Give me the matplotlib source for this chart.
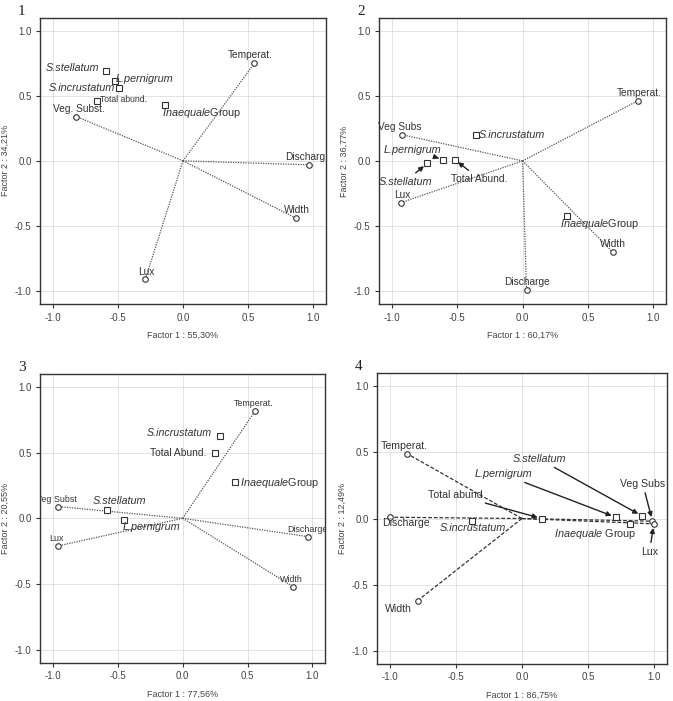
import matplotlib
matplotlib.use("Agg")
import matplotlib.pyplot as plt

plt.rcParams["font.family"] = ["Liberation Sans", "DejaVu Sans"]
plt.rcParams["mathtext.fontset"] = "custom"
plt.rcParams["mathtext.rm"] = "Liberation Sans"
plt.rcParams["mathtext.it"] = "Liberation Sans:italic"

INAEQ = r"$\mathit{Inaequale}$Group"
INAEQ_SP = r"$\mathit{Inaequale}$ Group"

# ---- panel 1 ----
p1_xlabel = "Factor 1 : 55,30%"
p1_ylabel = "Factor 2 : 34,21%"
p1_vars = ["Temperat.", "Discharg", "Width", "Lux", "Veg. Subst."]
p1_vx = [0.55, 0.97, 0.87, -0.29, -0.82]
p1_vy = [0.75, -0.03, -0.44, -0.91, 0.34]
p1_spp = ["S.stellatum", "L.pernigrum", "S.incrustatum", "Total abund.", INAEQ]
p1_sx = [-0.59, -0.52, -0.49, -0.66, -0.14]
p1_sy = [0.69, 0.61, 0.56, 0.46, 0.43]

# ---- panel 2 ----
p2_xlabel = "Factor 1 : 60,17%"
p2_ylabel = "Factor 2 : 36,77%"
p2_vars = ["Temperat.", "Veg Subs", "Lux", "Width", "Discharge"]
p2_vx = [0.88, -0.92, -0.93, 0.69, 0.03]
p2_vy = [0.46, 0.20, -0.32, -0.70, -0.99]
p2_spp = ["S.incrustatum", "L.pernigrum", "S.stellatum", "Total Abund.", INAEQ]
p2_sx = [-0.36, -0.61, -0.73, -0.52, 0.34]
p2_sy = [0.20, 0.01, -0.02, 0.01, -0.42]

# ---- panel 3 ----
p3_xlabel = "Factor 1 : 77,56%"
p3_ylabel = "Factor 2 : 20,55%"
p3_vars = ["Temperat.", "Veg Subst", "Lux", "Discharge", "Width"]
p3_vx = [0.56, -0.96, -0.96, 0.97, 0.85]
p3_vy = [0.82, 0.09, -0.21, -0.14, -0.52]
p3_spp = ["S.incrustatum", "Total Abund.", INAEQ, "S.stellatum", "L.pernigrum"]
p3_sx = [0.29, 0.25, 0.40, -0.58, -0.45]
p3_sy = [0.63, 0.50, 0.28, 0.06, -0.01]

# ---- panel 4 ----
p4_xlabel = "Factor 1 : 86,75%"
p4_ylabel = "Factor 2 : 12,49%"
p4_vars = ["Temperat.", "Discharge", "Width", "Veg Subs", "Lux"]
p4_vx = [-0.87, -1.00, -0.79, 0.99, 1.00]
p4_vy = [0.49, 0.01, -0.62, -0.02, -0.04]
p4_spp = ["Total abund", "S.incrustatum", "L.pernigrum", "S.stellatum", INAEQ_SP]
p4_sx = [0.15, -0.38, 0.71, 0.91, 0.82]
p4_sy = [0.00, -0.02, 0.01, 0.02, -0.04]

ticks = [-1.0, -0.5, 0.0, 0.5, 1.0]

# label placement: (dx pt, dy pt, ha, va, size, arrow)
p1_vlab = [(-3, 2, "center", "bottom", 7.3, False), (-17, 2, "left", "bottom", 7.3, False),
           (-9, 2, "left", "bottom", 7.3, False), (1, 2, "center", "bottom", 7.3, False),
           (2, 2, "center", "bottom", 7.3, False)]
p1_slab = [(-5, 2, "right", "center", 7.8, False), (0, 2, "left", "center", 7.8, False),
           (-3, 0, "right", "center", 7.8, False), (2, 1, "left", "center", 6.2, False),
           (-2, -6, "left", "center", 7.8, False)]
p2_vlab = [(1, 2, "center", "bottom", 7.3, False), (-2, 2, "center", "bottom", 7.3, False),
           (1, 2, "center", "bottom", 7.3, False), (0, 2, "center", "bottom", 7.3, False),
           (0, 2, "center", "bottom", 7.3, False)]
p2_slab = [(2, 0, "left", "center", 7.8, False), (-22, 7, "center", "center", 7.8, True),
           (-16, -13, "center", "center", 7.8, True), (18, -14, "center", "center", 7.4, True),
           (-5, -6, "left", "center", 7.8, False)]
p3_vlab = [(-1, 2, "center", "bottom", 6.4, False), (-1, 2, "center", "bottom", 6.4, False),
           (-1, 2, "center", "bottom", 6.4, False), (-1, 2, "center", "bottom", 6.4, False),
           (-1, 2, "center", "bottom", 6.4, False)]
p3_slab = [(-6, 2, "right", "center", 7.7, False), (-6, 0, "right", "center", 7.4, False),
           (4, -1, "left", "center", 7.8, False), (9, 7, "center", "center", 7.8, False),
           (-1, -5, "left", "center", 7.8, False)]
p4_vlab = [(-2, 2, "center", "bottom", 7.6, False), (-6, -4, "left", "center", 7.6, False),
           (-14, -6, "center", "center", 7.6, False), (-7, 27, "center", "center", 7.6, True),
           (-3, -20, "center", "center", 7.6, True)]
p4_slab = [(-62, 17, "center", "center", 7.6, True), (1, -5, "center", "center", 7.8, False),
           (-81, 31, "center", "center", 7.8, True), (-74, 41, "center", "center", 7.8, True),
           (-25, -7, "center", "center", 7.8, False)]

panels = [
    ("1", [0.0594, 0.566, 0.425, 0.409], p1_xlabel, p1_ylabel, p1_vars, p1_vx, p1_vy,
     p1_spp, p1_sx, p1_sy, p1_vlab, p1_slab, (0, (1, 1)), "#555555", True),
    ("2", [0.563, 0.566, 0.427, 0.409], p2_xlabel, p2_ylabel, p2_vars, p2_vx, p2_vy,
     p2_spp, p2_sx, p2_sy, p2_vlab, p2_slab, (0, (1, 1)), "#555555", False),
    ("3", [0.0594, 0.0546, 0.424, 0.412], p3_xlabel, p3_ylabel, p3_vars, p3_vx, p3_vy,
     p3_spp, p3_sx, p3_sy, p3_vlab, p3_slab, (0, (1, 1)), "#555555", True),
    ("4", [0.560, 0.0528, 0.431, 0.415], p4_xlabel, p4_ylabel, p4_vars, p4_vx, p4_vy,
     p4_spp, p4_sx, p4_sy, p4_vlab, p4_slab, (0, (3, 1.5)), "#333333", False),
]

fig = plt.figure(figsize=(6.73, 7.01), dpi=100)

arrow = dict(arrowstyle="-|>", color="#222222", lw=1.0, mutation_scale=7,
             shrinkA=1, shrinkB=3)


def put_label(ax, name, x, y, lab, italic, clip):
    dx, dy, ha, va, size, has_arrow = lab
    ax.annotate(name, (x, y), xytext=(dx, dy), textcoords="offset points",
                ha=ha, va=va, fontsize=size, color="#333333",
                style="italic" if italic else "normal",
                arrowprops=arrow if has_arrow else None,
                annotation_clip=False, clip_on=clip, zorder=5)


for (num, pos, xl, yl, vn, vx, vy, sn, sx, sy, vlab, slab, ls, lc, clip) in panels:
    ax = fig.add_axes(pos)
    ax.set_xlim(-1.1, 1.1)
    ax.set_ylim(-1.1, 1.1)
    ax.set_xticks(ticks)
    ax.set_yticks(ticks)
    ax.set_xticklabels([f"{t:.1f}" for t in ticks])
    ax.set_yticklabels([f"{t:.1f}" for t in ticks])
    ax.grid(True, color="#dddddd", lw=0.6)
    ax.set_axisbelow(True)
    ax.tick_params(direction="out", length=3, width=0.8, colors="#333333",
                   labelsize=7, labelcolor="#444444", pad=3)
    for s in ax.spines.values():
        s.set_color("#333333")
        s.set_linewidth(1.0)
    ax.set_xlabel(xl, fontsize=6.5, color="#444444", labelpad=6)
    ax.set_ylabel(yl, fontsize=6.5, color="#444444", labelpad=4)

    for i in range(len(vn)):
        ax.plot([0, vx[i]], [0, vy[i]], linestyle=ls, color=lc, lw=0.9, zorder=2)
    ax.plot(vx, vy, "o", ms=4, mfc="white", mec="#333333", mew=0.8, ls="none", zorder=3)
    ax.plot(sx, sy, "s", ms=4.5, mfc="white", mec="#333333", mew=0.8, ls="none", zorder=3)

    for i in range(len(vn)):
        put_label(ax, vn[i], vx[i], vy[i], vlab[i], False, clip)
    for i in range(len(sn)):
        put_label(ax, sn[i], sx[i], sy[i], slab[i],
                  "Group" not in sn[i] and "Total" not in sn[i], clip)

    fig.text(pos[0] - 0.027, pos[1] + pos[3] + 0.004, num, family="Liberation Serif",
             fontsize=11, color="#222222", ha="center", va="baseline")

fig.savefig("out.png", dpi=100, facecolor="white")
